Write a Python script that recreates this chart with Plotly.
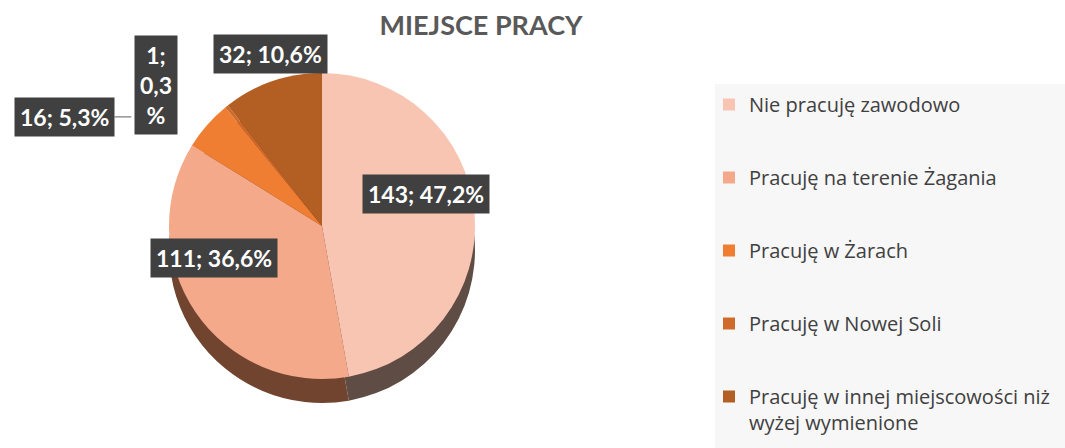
import math
import plotly.graph_objects as go

# ---- data ----
categories = [
    "Nie pracuję zawodowo",
    "Pracuję na terenie Żagania",
    "Pracuję w Żarach",
    "Pracuję w Nowej Soli",
    "Pracuję w innej miejscowości niż wyżej wymienione",
]
values = [143, 111, 16, 1, 32]
title_text = "MIEJSCE PRACY"

# ---- styles ----
colors = ["#F8C5B3", "#F4A98A", "#EF7E33", "#D06A2A", "#B35E22"]
side_colors = ["#5F4D45", "#71442F", "#71442F", "#6A3F2C", "#6A3F2C"]
W, H = 1065, 448
cx, cy, r, depth = 322, 226, 153, 24
FONT = "Lato"

# label placement (radial factor, pixel shifts, optional leader offset)
label_rf = [0.68, 0.68, 1.25, 1.30, 1.15]
label_xs = [0, -22, -47, -42, 6]
label_ys = [23, 26, -17, -14, 6]
label_ax = [None, None, -67, None, None]
label_wrap = [False, False, False, True, False]

total = sum(values)

def dom(cyy):
    return dict(x=[(cx - r) / W, (cx + r) / W],
                y=[1 - (cyy + r) / H, 1 - (cyy - r) / H])

fig = go.Figure()

# side (depth) of the pie
fig.add_trace(go.Pie(
    labels=categories, values=values, sort=False, direction="clockwise",
    rotation=0, marker=dict(colors=side_colors), textinfo="none",
    hoverinfo="skip", showlegend=False, domain=dom(cy + depth),
))
# top face
fig.add_trace(go.Pie(
    labels=categories, values=values, sort=False, direction="clockwise",
    rotation=0, marker=dict(colors=colors), textinfo="none",
    showlegend=False, domain=dom(cy),
    hovertemplate="%{label}<br>%{value}; %{percent:.1%}<extra></extra>",
))

# legend entries (one group each for spacing)
legend_names = [c if len(c) < 40 else c.replace(" niż ", " niż<br>") for c in categories]
for name, col in zip(legend_names, colors):
    fig.add_trace(go.Scatter(
        x=[None], y=[None], mode="markers", name=name, legendgroup=name,
        marker=dict(symbol="square", size=12, color=col), hoverinfo="skip",
    ))

# data labels
annotations = []
cum = 0
for i, v in enumerate(values):
    mid = (cum + v / 2) / total
    cum += v
    th = math.radians(90 - 360 * mid)
    px = cx + r * label_rf[i] * math.cos(th)
    py = cy - r * label_rf[i] * math.sin(th)
    pct = f"{v / total * 100:.1f}".replace(".", ",")
    txt = f"{v};<br>{pct}<br>%" if label_wrap[i] else f"{v}; {pct}%"
    ann = dict(
        x=px / W, y=1 - py / H, xref="paper", yref="paper",
        xshift=label_xs[i], yshift=label_ys[i],
        xanchor="center", yanchor="middle",
        text=txt, bgcolor="#404040", borderpad=5,
        font=dict(family=FONT, size=23, color="white", weight="bold"),
        align="center",
    )
    if label_ax[i] is not None:
        ann.update(showarrow=True, ax=label_ax[i], ay=0, arrowhead=0,
                   arrowwidth=1.2, arrowcolor="#7F7F7F", standoff=0)
    else:
        ann.update(showarrow=False)
    annotations.append(ann)

fig.update_layout(
    width=W, height=H,
    margin=dict(l=0, r=0, t=0, b=0, autoexpand=False),
    paper_bgcolor="white", plot_bgcolor="rgba(0,0,0,0)",
    separators=", ",
    title=dict(text=title_text, x=481 / W, xanchor="center",
               y=1 - 26 / H, yanchor="middle",
               font=dict(family=FONT, size=27, color="#595959", weight="bold")),
    xaxis=dict(visible=False), yaxis=dict(visible=False),
    legend=dict(x=709 / W, xanchor="left", y=1 - 85 / H, yanchor="top",
                bgcolor="rgba(0,0,0,0)", tracegroupgap=44, valign="top",
                font=dict(family="Open Sans", size=20, color="#404040")),
    shapes=[dict(type="rect", xref="paper", yref="paper",
                 x0=715 / W, x1=1, y0=0, y1=1 - 84 / H,
                 fillcolor="#F7F7F7", line=dict(width=0), layer="below")],
    annotations=annotations,
    hovermode="closest",
)

fig.write_html("out.html", config={"displayModeBar": False},
               post_script="document.body.style.margin='0';")
